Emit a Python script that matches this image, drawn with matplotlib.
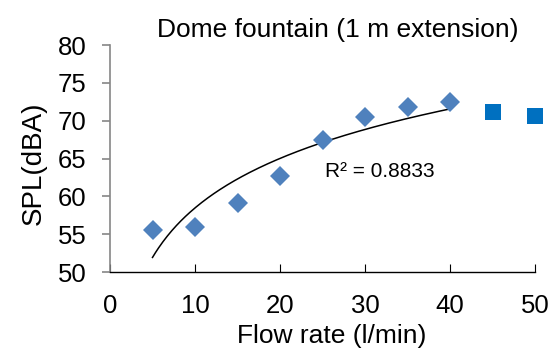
import numpy as np
import matplotlib
matplotlib.use("Agg")
import matplotlib.pyplot as plt

plt.rcParams['font.family'] = ['Liberation Sans', 'DejaVu Sans']

# Measured sound pressure levels
flow_fit = [5, 10, 15, 20, 25, 30, 35, 40]
spl_fit = [55.5, 55.9, 59.1, 62.7, 67.5, 70.5, 71.8, 72.5]
flow_extra = [45, 50]
spl_extra = [71.1, 70.6]

xticks = [0, 10, 20, 30, 40, 50]
yticks = [50, 55, 60, 65, 70, 75, 80]

fig = plt.figure(figsize=(5.6, 3.54), dpi=100)
ax = fig.add_axes([110/560, 1 - 272/354, (535 - 110)/560, (272 - 45)/354])

# Logarithmic trendline fitted to the first series
a, b = np.polyfit(np.log(flow_fit), spl_fit, 1)
xs = np.linspace(min(flow_fit), max(flow_fit), 200)
ax.plot(xs, a*np.log(xs) + b, color='black', lw=1.1, zorder=2)

ax.plot(flow_fit, spl_fit, ls='none', marker='D', ms=10, mew=0,
        color='#4F81BD', zorder=3)
ax.plot(flow_extra, spl_extra, ls='none', marker='s', ms=11.5, mew=0,
        color='#0070C0', zorder=3, clip_on=False)

ax.text(31.8, 63.3, 'R² = 0.8833', fontsize=15, ha='center', va='center')

ax.set_xlim(0, 50)
ax.set_ylim(50, 80)
ax.set_xticks(xticks)
ax.set_yticks(yticks)

for s in ['top', 'right']:
    ax.spines[s].set_visible(False)
ax.spines['left'].set_color('#868686')
ax.spines['left'].set_linewidth(1.2)
ax.spines['bottom'].set_color('black')
ax.spines['bottom'].set_linewidth(1.0)

ax.tick_params(axis='x', direction='in', length=6, width=0.8, color='black',
               labelsize=18.5, pad=15.5)
ax.tick_params(axis='y', direction='out', length=5.5, width=1.2, color='#868686',
               labelsize=18.5, pad=11.5)

ax.set_xlabel('Flow rate (l/min)', fontsize=19)
ax.xaxis.set_label_coords(0.522, -0.229)
ax.set_ylabel('SPL(dBA)', fontsize=20)
ax.yaxis.set_label_coords(-0.148, 0.478)
ax.set_title('Dome fountain (1 m extension)', fontsize=19, pad=6, x=0.535)

fig.savefig('out.png', dpi=100)
